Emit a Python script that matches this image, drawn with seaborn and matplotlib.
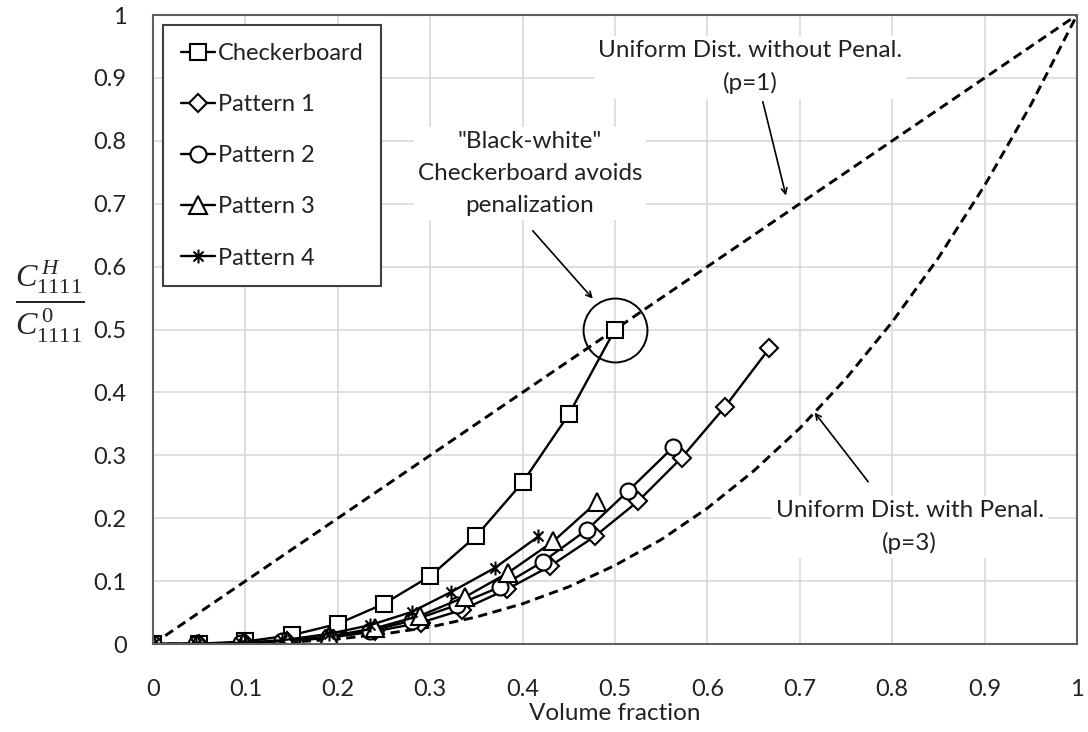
import numpy as np
import pandas as pd
import matplotlib
matplotlib.use("Agg")
import matplotlib.pyplot as plt
from matplotlib.path import Path
import seaborn as sns

sns.set_style("whitegrid", {"grid.color": "#d9d9d9", "axes.edgecolor": "#606060"})
plt.rcParams["font.family"] = ["Lato", "DejaVu Sans"]
plt.rcParams["mathtext.fontset"] = "custom"
plt.rcParams["mathtext.rm"] = "Liberation Serif"
plt.rcParams["mathtext.it"] = "Liberation Serif:italic"

# ---------------------------------------------------------------------------
# data
# ---------------------------------------------------------------------------
checker_x = [0, 0.05, 0.1, 0.15, 0.2, 0.25, 0.3, 0.35, 0.4, 0.45, 0.5]
checker_y = [0, 0.0005, 0.004, 0.014, 0.032, 0.064, 0.108, 0.172, 0.257, 0.365, 0.5]

p1_x = [0, 0.05, 0.1, 0.145, 0.19, 0.24, 0.29, 0.334, 0.383, 0.43, 0.478, 0.525, 0.572, 0.619, 0.667]
p1_y = [0, 0.0001, 0.001, 0.004, 0.010, 0.020, 0.034, 0.054, 0.087, 0.124, 0.171, 0.227, 0.296, 0.377, 0.47]

p2_x = [0, 0.047, 0.095, 0.14, 0.19, 0.235, 0.28, 0.329, 0.376, 0.422, 0.47, 0.514, 0.563]
p2_y = [0, 0.0001, 0.001, 0.004, 0.011, 0.021, 0.037, 0.062, 0.091, 0.131, 0.182, 0.243, 0.313]

p3_x = [0, 0.048, 0.097, 0.145, 0.19, 0.24, 0.289, 0.338, 0.384, 0.433, 0.48]
p3_y = [0, 0.0002, 0.001, 0.005, 0.012, 0.025, 0.045, 0.075, 0.113, 0.163, 0.225]

p4_x = [0, 0.047, 0.095, 0.14, 0.19, 0.235, 0.28, 0.323, 0.37, 0.417]
p4_y = [0, 0.0002, 0.002, 0.006, 0.016, 0.030, 0.051, 0.083, 0.121, 0.171]

# uniform distribution bounds
lin_x = [0, 1]
lin_y = [0, 1]
cube_x = [0, 0.05, 0.1, 0.15, 0.2, 0.25, 0.3, 0.35, 0.4, 0.45, 0.5,
          0.55, 0.6, 0.65, 0.7, 0.75, 0.8, 0.85, 0.9, 0.95, 1.0]
cube_y = [0, 0.0001, 0.001, 0.003, 0.008, 0.016, 0.027, 0.043, 0.064, 0.091, 0.125,
          0.166, 0.216, 0.275, 0.343, 0.422, 0.512, 0.614, 0.729, 0.857, 1.0]

ticks = [0, 0.1, 0.2, 0.3, 0.4, 0.5, 0.6, 0.7, 0.8, 0.9, 1]

# asterisk marker: vertical bar + an X
star = Path([(0, -1), (0, 1), (-0.72, -0.72), (0.72, 0.72), (-0.72, 0.72), (0.72, -0.72)],
            [Path.MOVETO, Path.LINETO, Path.MOVETO, Path.LINETO, Path.MOVETO, Path.LINETO])

fig, ax = plt.subplots(figsize=(10.88, 7.32), dpi=100)
fig.subplots_adjust(left=0.1406, right=0.9899, bottom=0.1202, top=0.9795)

dash = (0, (3.2, 1.9))
sns.lineplot(x=lin_x, y=lin_y, color="black", lw=2.1, linestyle=dash, ax=ax, errorbar=None)
sns.lineplot(x=cube_x, y=cube_y, color="black", lw=2.1, linestyle=dash, ax=ax, errorbar=None)

series = [
    ("Checkerboard", checker_x, checker_y, "s", 11),
    ("Pattern 1", p1_x, p1_y, "D", 9),
    ("Pattern 2", p2_x, p2_y, "o", 11.5),
    ("Pattern 3", p3_x, p3_y, "^", 12.5),
    ("Pattern 4", p4_x, p4_y, star, 10),
]
for name, xs, ys, mk, ms in series:
    sns.lineplot(x=xs, y=ys, color="black", lw=1.7, marker=mk, markersize=ms,
                 markerfacecolor="white", markeredgecolor="black", markeredgewidth=1.5,
                 label=name, ax=ax, errorbar=None)

# circle around the checkerboard point at 0.5
ax.plot([checker_x[-1]], [checker_y[-1]], marker="o", ms=46, mfc="none", mec="black", mew=1.4)

ax.set_xlim(0, 1)
ax.set_ylim(0, 1)
ax.set_xticks(ticks)
ax.set_yticks(ticks)
ax.set_xticklabels([f"{t:g}" for t in ticks])
ax.set_yticklabels([f"{t:g}" for t in ticks])
ax.tick_params(axis="x", length=0, pad=25, labelsize=17, colors="#222222")
ax.tick_params(axis="y", length=0, pad=19, labelsize=17, colors="#222222")
ax.grid(True, color="#d9d9d9", lw=1.2)
for sp in ax.spines.values():
    sp.set_color("#606060")
    sp.set_linewidth(1.5)

ax.set_xlabel("Volume fraction", fontsize=17.5, labelpad=2, color="#222222")
ax.set_ylabel(r"$\frac{\mathit{C}^{\,\mathit{H}}_{\mathit{1111}}}{\mathit{C}^{\,0}_{\mathit{1111}}}$",
              fontsize=33, rotation=0, ha="center", va="center")
ax.yaxis.set_label_coords(-0.112, 0.545)

txt = dict(fontsize=17.5, ha="center", va="center", linespacing=1.62, color="#222222",
           bbox=dict(facecolor="white", edgecolor="none", pad=3))
arrow = dict(arrowstyle="->", color="black", lw=1.2, shrinkA=0, shrinkB=0)

ax.annotate("", xy=(0.685, 0.713), xytext=(0.660, 0.862), arrowprops=arrow)
ax.text(0.646, 0.917, "Uniform Dist. without Penal.\n(p=1)", **txt)

ax.annotate("", xy=(0.476, 0.549), xytext=(0.411, 0.657), arrowprops=arrow)
ax.text(0.408, 0.748, "\"Black-white\"\nCheckerboard avoids\npenalization", **txt)

ax.annotate("", xy=(0.716, 0.368), xytext=(0.774, 0.258), arrowprops=arrow)
ax.text(0.819, 0.186, "Uniform Dist. with Penal.\n(p=3)", **txt)

leg = ax.legend(loc="upper left", bbox_to_anchor=(0.011, 0.984), borderaxespad=0,
                fontsize=17, handlelength=1.45, handletextpad=0.12, labelspacing=1.28,
                borderpad=0.75, fancybox=False, framealpha=1)
leg.get_frame().set_edgecolor("#404040")
leg.get_frame().set_linewidth(1.5)
for t in leg.get_texts():
    t.set_color("#222222")

fig.savefig("out.png", dpi=100)
